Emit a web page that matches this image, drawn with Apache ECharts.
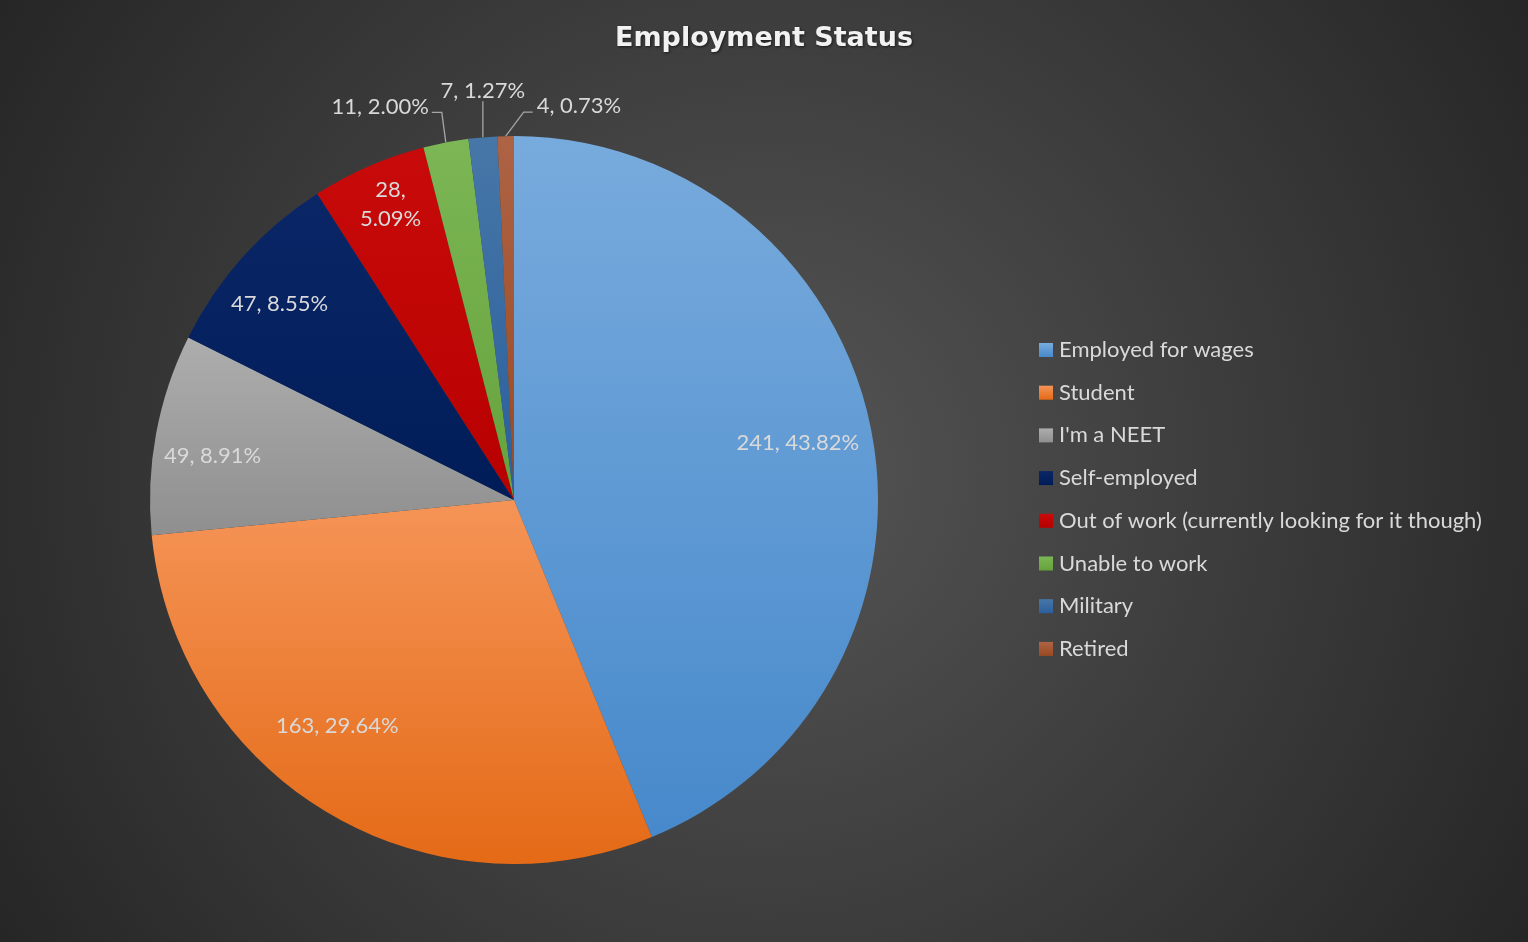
<!DOCTYPE html>
<html>
<head>
<meta charset="utf-8">
<script src="https://cdn.jsdelivr.net/npm/echarts@6/dist/echarts.min.js"></script>
<style>
html,body{margin:0;padding:0;background:#333;}
#chart{width:1528px;height:942px;}
</style>
</head>
<body>
<div id="chart"></div>
<script>
const categories = ["Employed for wages","Student","I'm a NEET","Self-employed","Out of work (currently looking for it though)","Unable to work","Military","Retired"];
const counts = [241,163,49,47,28,11,7,4];
const titleText = "Employment Status";

const topColors = ['#78abdd','#f59457','#adadad','#0a2666','#c80a0a','#7cb655','#4777a8','#ad6345'];
const bottomColors = ['#4789cb','#e46a16','#8f8f8f','#001c58','#b80000','#65a23c','#2a5f9c','#9a4a22'];

function grad(i){
  return {type:'linear',x:0,y:0,x2:0,y2:1,colorStops:[{offset:0,color:topColors[i]},{offset:1,color:bottomColors[i]}]};
}
const total = counts.reduce((a,b)=>a+b,0);
const isOutside = counts.map(v => v/total < 0.03);

const mainData = categories.map((n,i)=>({
  name:n, value:counts[i],
  itemStyle:{color:grad(i)},
  label:{show:isOutside[i]},
  labelLine:{show:isOutside[i]}
}));
const overlayData = categories.map((n,i)=>({
  name:n, value:counts[i],
  label:{show:!isOutside[i]}
}));

function pctText(v){ return (v/total*100).toFixed(2) + '%'; }
function fmtOutside(p){ return p.value + ', ' + pctText(p.value); }
function fmtInside(p){
  const share = p.value/total*100;
  return p.value + (share < 6 ? ',\n' : ', ') + pctText(p.value);
}

// leader line offsets relative to slice edge point (for outside labels)
const outsideLayout = {
  5:{bend:[-4,-30], end:[-14,-30], label:[-17,-36], align:'right'},
  6:{bend:[0,-36], end:[0,-36], label:[0,-46], align:'center'},
  7:{bend:[18,-24], end:[27,-24], label:[31,-30], align:'left'}
};
// small nudges for inside labels
const insideNudge = {0:[-12,1],1:[-21,-32],2:[-5,11],3:[-10,5],4:[-3,-19]};

const chart = echarts.init(document.getElementById('chart'));
const labelFont = 'Lato, "Open Sans", sans-serif';
const R = 364;
const center = [514, 500];

chart.setOption({
  animation:false,
  backgroundColor:{type:'radial',x:0.5,y:0.5,r:0.95,colorStops:[{offset:0,color:'#555555'},{offset:1,color:'#262626'}]},
  title:{
    text:titleText, left:'center', top:20,
    textStyle:{color:'#f2f2f2',fontSize:27,fontWeight:'bold',fontFamily:'"DejaVu Sans", sans-serif',
      textShadowColor:'rgba(0,0,0,0.6)',textShadowBlur:3,textShadowOffsetX:1,textShadowOffsetY:1}
  },
  legend:{
    orient:'vertical', left:1039, top:338, padding:0,
    itemWidth:14, itemHeight:14, itemGap:18.7,
    icon:'rect',
    data:categories,
    textStyle:{color:'#d9d9d9',fontSize:22,fontFamily:labelFont,lineHeight:24,padding:[0,0,0,1]},
    selectedMode:false
  },
  series:[
    {
      type:'pie', center:center, radius:R,
      startAngle:90, clockwise:true,
      data:mainData,
      itemStyle:{borderWidth:0},
      emphasis:{disabled:true},
      label:{position:'outside',color:'#d9d9d9',fontSize:22,fontFamily:labelFont,formatter:fmtOutside},
      labelLine:{length:20,length2:8,lineStyle:{color:'#a6a6a6',width:1.3}},
      labelLayout:function(params){
        const o = outsideLayout[params.dataIndex];
        const pts = params.labelLinePoints;
        if(!o || !pts) return {};
        const p0 = pts[0];
        return {
          x:p0[0]+o.label[0], y:p0[1]+o.label[1],
          align:o.align, verticalAlign:'middle',
          labelLinePoints:[[p0[0],p0[1]],[p0[0]+o.bend[0],p0[1]+o.bend[1]],[p0[0]+o.end[0],p0[1]+o.end[1]]]
        };
      }
    },
    {
      type:'pie', center:center, radius:[R*0.64, R],
      startAngle:90, clockwise:true, silent:true,
      legendHoverLink:false,
      data:overlayData,
      itemStyle:{color:'rgba(0,0,0,0)',borderWidth:0},
      emphasis:{disabled:true},
      label:{position:'inside',color:'#d9d9d9',fontSize:22,lineHeight:29,fontFamily:labelFont,formatter:fmtInside},
      labelLine:{show:false},
      labelLayout:function(params){
        const n = insideNudge[params.dataIndex];
        return n ? {dx:n[0], dy:n[1]} : {};
      }
    }
  ]
});
</script>
</body>
</html>
